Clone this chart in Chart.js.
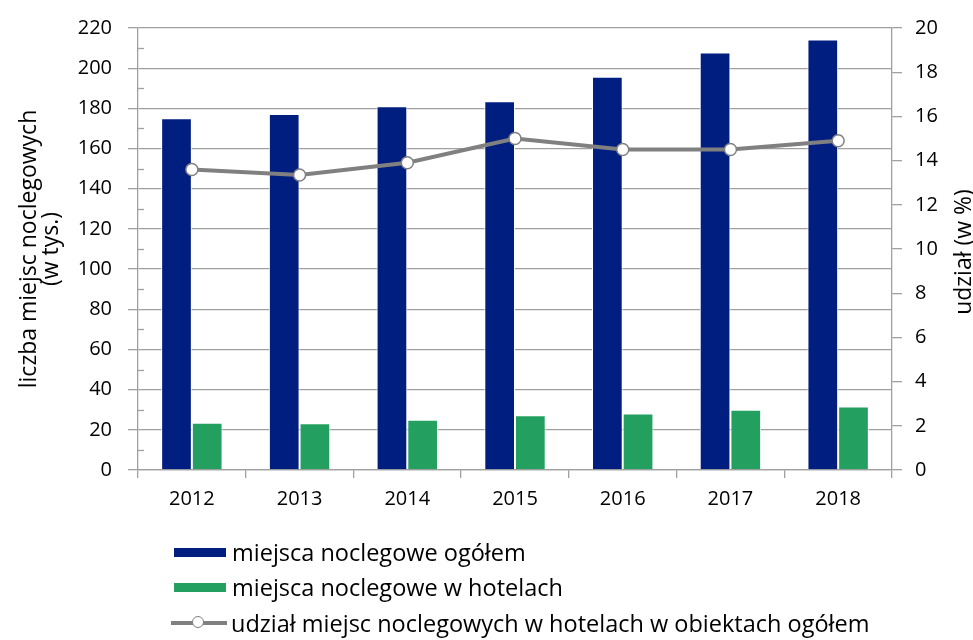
<!DOCTYPE html>
<html lang="pl">
<head>
<meta charset="utf-8">
<script src="https://cdn.jsdelivr.net/npm/chart.js@4"></script>
<style>
  html, body { margin: 0; padding: 0; background: #fff; }
  #wrap { position: relative; width: 973px; height: 640px; }
  #c { position: absolute; left: 0; top: 0; }
  .lg { position: absolute; left: 172px; font-family: "Open Sans", sans-serif; font-size: 23.5px; color: #000; display: flex; align-items: center; white-space: nowrap; }
  .sw { width: 52px; height: 9px; margin-right: 6px; }
  .ln { position: relative; width: 56px; height: 4px; background: #808080; margin-right: 4px; }
  .ln i { position: absolute; left: 21px; top: -5px; width: 12px; height: 12px; border-radius: 50%; background: #fff; border: 1.5px solid #808080; box-sizing: border-box; }
</style>
</head>
<body>
<div id="wrap">
  <canvas id="c" width="973" height="640"></canvas>
  <div id="legend"></div>
</div>
<script>
const categories = ['2012', '2013', '2014', '2015', '2016', '2017', '2018'];
const seriesNames = [
  'miejsca noclegowe ogółem',
  'miejsca noclegowe w hotelach',
  'udział miejsc noclegowych w hotelach w obiektach ogółem'
];
const totalPlaces = [175.1, 177.2, 181.0, 183.5, 195.7, 207.8, 214.3];
const hotelPlaces = [23.5, 23.3, 25.0, 27.3, 28.1, 30.0, 31.6];
const hotelShare = [13.6, 13.35, 13.9, 15.0, 14.5, 14.5, 14.9];
const leftAxisTitle = ['liczba miejsc noclegowych', '(w tys.)'];
const rightAxisTitle = 'udział (w %)';
const leftMax = 220, leftStep = 20;
const rightMax = 20, rightStep = 2;

const BLUE = 'rgb(0,30,128)';
const GREEN = 'rgb(35,160,96)';
const GREY = '#808080';
const GRID = '#a0a0a0';
const FONT = '"Open Sans", sans-serif';
const TEXT = '#000';

const extras = {
  id: 'extras',
  afterDatasetsDraw(chart) {
    const ctx = chart.ctx;
    const y = chart.scales.y;
    const ca = chart.chartArea;
    ctx.save();
    ctx.strokeStyle = GRID;
    ctx.lineWidth = 1.3;
    for (let v = leftStep / 2; v < leftMax; v += leftStep) {
      const py = Math.round(y.getPixelForValue(v)) + 0.5;
      ctx.beginPath();
      ctx.moveTo(ca.left, py);
      ctx.lineTo(ca.left + 6, py);
      ctx.stroke();
    }
    ctx.restore();
  },
  afterDraw(chart) {
    const ctx = chart.ctx;
    const ca = chart.chartArea;
    ctx.save();
    ctx.translate(964, (ca.top + ca.bottom) / 2 + 3);
    ctx.rotate(-Math.PI / 2);
    ctx.font = '23px ' + FONT;
    ctx.fillStyle = TEXT;
    ctx.textAlign = 'center';
    ctx.textBaseline = 'middle';
    ctx.fillText(rightAxisTitle, 0, 0);
    ctx.restore();
  }
};

const chart = new Chart(document.getElementById('c'), {
  type: 'bar',
  data: {
    labels: categories,
    datasets: [
      { label: seriesNames[0], data: totalPlaces, backgroundColor: BLUE, borderColor: '#fff', borderWidth: 1, yAxisID: 'y', order: 1, categoryPercentage: 0.57, barPercentage: 1 },
      { label: seriesNames[1], data: hotelPlaces, backgroundColor: GREEN, borderColor: '#fff', borderWidth: 1, yAxisID: 'y', order: 1, categoryPercentage: 0.57, barPercentage: 1 },
      { type: 'line', label: seriesNames[2], data: hotelShare, yAxisID: 'y1', order: 0,
        borderColor: GREY, borderWidth: 4, pointRadius: 6, pointBackgroundColor: '#fff', pointBorderColor: GREY, pointBorderWidth: 1.5, tension: 0 }
    ]
  },
  options: {
    responsive: false,
    animation: false,
    layout: { padding: { top: 28, bottom: 129, left: 0, right: 0 } },
    plugins: { legend: { display: false }, tooltip: { enabled: false } },
    scales: {
      x: {
        grid: { display: true, drawOnChartArea: false, offset: true, tickLength: 8, color: GRID, lineWidth: 1.3 },
        border: { display: true, color: GRID, width: 1.3 },
        ticks: { font: { family: FONT, size: 20 }, color: TEXT, padding: 9, maxRotation: 0 },
        afterFit(s) { s.height = 41; }
      },
      y: {
        position: 'left', min: 0, max: leftMax,
        ticks: { stepSize: leftStep, font: { family: FONT, size: 20 }, color: TEXT, padding: 16 },
        grid: { color: GRID, lineWidth: 1.3, tickLength: 10 },
        border: { display: true, color: GRID, width: 1.3 },
        title: { display: true, text: leftAxisTitle, font: { family: FONT, size: 23, lineHeight: '22px' }, color: TEXT, padding: { top: 18, bottom: 0 } },
        afterFit(s) { s.width = 138; }
      },
      y1: {
        position: 'right', min: 0, max: rightMax,
        ticks: { stepSize: rightStep, font: { family: FONT, size: 20 }, color: TEXT, padding: 13 },
        grid: { drawOnChartArea: false, color: GRID, lineWidth: 1.3, tickLength: 10 },
        border: { display: true, color: GRID, width: 1.3 },
        afterFit(s) { s.width = 81; }
      }
    }
  },
  plugins: [extras]
});

// legend built from the chart's datasets
const legendEl = document.getElementById('legend');
const legendTops = [552, 587, 623];
chart.data.datasets.forEach((ds, i) => {
  const row = document.createElement('div');
  row.className = 'lg';
  row.style.top = (legendTops[i] - 16) + 'px';
  row.style.height = '32px';
  let mark;
  if (ds.type === 'line') {
    mark = document.createElement('span');
    mark.className = 'ln';
    mark.appendChild(document.createElement('i'));
    row.style.left = '171px';
  } else {
    mark = document.createElement('span');
    mark.className = 'sw';
    mark.style.background = ds.backgroundColor;
    row.style.left = '174px';
  }
  row.appendChild(mark);
  const t = document.createElement('span');
  t.textContent = ds.label;
  row.appendChild(t);
  legendEl.appendChild(row);
});
</script>
</body>
</html>
